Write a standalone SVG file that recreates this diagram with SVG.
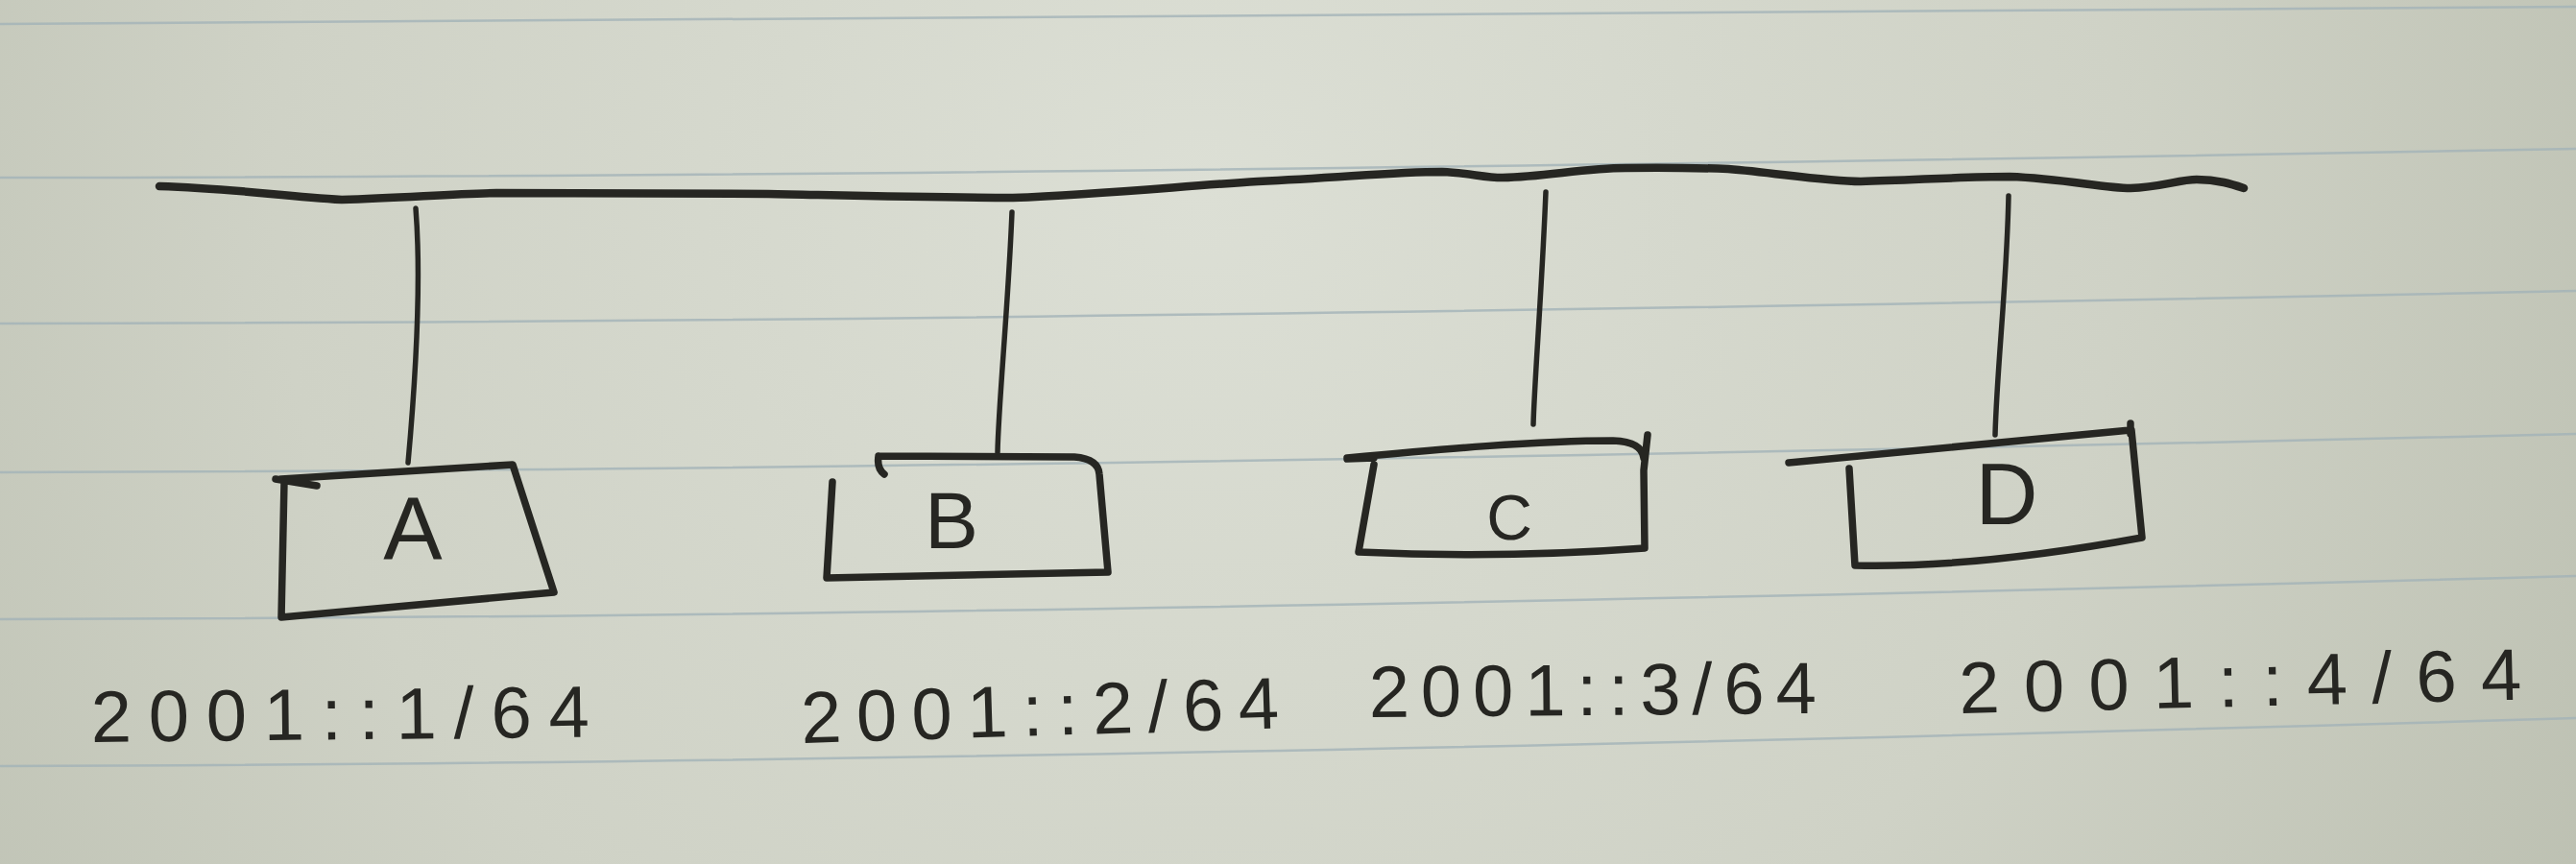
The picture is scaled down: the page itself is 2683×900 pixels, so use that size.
<svg xmlns="http://www.w3.org/2000/svg" width="2683" height="900" viewBox="0 0 2683 900">
<defs>
<radialGradient id="paperGrad" cx="1250" cy="200" r="1750" gradientUnits="userSpaceOnUse">
<stop offset="0" stop-color="#dcdfd5"/>
<stop offset="0.55" stop-color="#cfd2c6"/>
<stop offset="1" stop-color="#b9bdae"/>
</radialGradient>
<style>
.rule{fill:none;stroke:#a3b3b8;stroke-width:2.5;opacity:0.8}
.ink{fill:none;stroke:#262622;stroke-linecap:round;stroke-linejoin:round}
.bus{stroke-width:8.5}
.drop{stroke-width:5.5}
.box{stroke-width:7.5}
.letter{font-family:"Liberation Sans","DejaVu Sans",sans-serif;fill:#262622;text-anchor:middle}
.addr{font-family:"Liberation Sans","DejaVu Sans",sans-serif;font-size:76px;fill:#262622}
</style>
</defs>
<g id="paper">
<rect x="0" y="0" width="2683" height="900" fill="url(#paperGrad)"/>
<path class="rule" d="M0,25 Q1100,22 2683,7"/>
<path class="rule" d="M0,185 Q1100,184 2683,155"/>
<path class="rule" d="M0,337 Q1100,336 2683,303"/>
<path class="rule" d="M0,492 Q1100,490 2683,452"/>
<path class="rule" d="M0,645 Q1100,643 2683,600"/>
<path class="rule" d="M0,798 Q1100,795 2683,748"/>
</g>
<g id="bus">
<path class="ink bus" d="M166,194 C240,196 290,204 356,208 C420,206 470,202 517,201 L800,202 C900,204 980,206 1055,206 C1150,202 1230,194 1310,189 C1400,185 1450,179 1502,179 C1530,180 1545,185 1565,185 C1610,184 1650,175 1693,175 C1740,174 1770,175 1800,176 C1850,180 1900,189 1938,189 C1990,188 2040,184 2093,184 C2150,186 2190,196 2219,196 C2250,195 2270,187 2288,187 C2310,187 2325,192 2337,196"/>
</g>
<g id="connectors">
<path class="ink drop" d="M433,217 C438,280 436,360 425,482"/>
<path class="ink drop" d="M1054,221 C1050,320 1040,420 1039,471"/>
<path class="ink drop" d="M1610,200 C1606,300 1598,400 1597,442"/>
<path class="ink drop" d="M2092,204 C2090,300 2080,380 2078,453"/>
</g>
<g id="node-A">
<path class="ink box" d="M287,499 L330,506 M293,499 L534,484 L577,617 L293,643 L296,502"/>
<text class="letter" x="430" y="583" font-size="92">A</text>
<text class="addr" x="95" y="773" textLength="519" lengthAdjust="spacing" transform="rotate(-0.6 95 773)">2001::1/64</text>
</g>
<g id="node-B">
<path class="ink box" d="M915,475 Q913,488 921,494 M915,475 L1119,476 Q1144,478 1145,494 L1154,596 L861,602 L867,502"/>
<text class="letter" x="991" y="571" font-size="84">B</text>
<text class="addr" x="835" y="774" textLength="498" lengthAdjust="spacing" transform="rotate(-1.8 835 774)">2001::2/64</text>
</g>
<g id="node-C">
<path class="ink box" d="M1403,478 L1431,477 M1403,477 C1500,468 1600,459 1680,459 Q1710,460 1712,477 M1716,453 L1712,490 L1713,571 Q1565,582 1415,575 L1431,484"/>
<text class="letter" x="1572" y="562" font-size="66">C</text>
<text class="addr" x="1426" y="747" textLength="466" lengthAdjust="spacing" transform="rotate(-0.5 1426 747)">2001::3/64</text>
</g>
<g id="node-D">
<path class="ink box" d="M1863,482 L2219,448 M2219,441 L2219,452 M2220,448 L2231,560 Q2056,592 1932,589 L1926,488"/>
<text class="letter" x="2090" y="546" font-size="90">D</text>
<text class="addr" x="2041" y="743" textLength="586" lengthAdjust="spacing" transform="rotate(-1.4 2041 743)">2001::4/64</text>
</g>
</svg>
